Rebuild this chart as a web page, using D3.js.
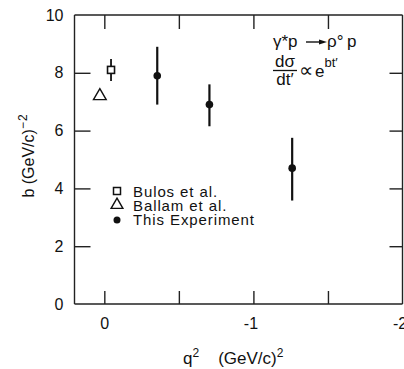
<!DOCTYPE html>
<html>
<head>
<meta charset="utf-8">
<script src="https://cdn.jsdelivr.net/npm/d3@7/dist/d3.min.js"></script>
<style>
  html, body { margin: 0; padding: 0; background: #fff; }
  svg { display: block; font-family: "Liberation Sans", Arial, sans-serif; }
  .axis path, .axis line { stroke: #222; stroke-width: 1.4; }
  .axis text { font-size: 16px; fill: #111; }
</style>
</head>
<body>
<div id="chart"></div>
<script>
// Slope parameter b of the rho0 t'-distribution versus photon virtuality q^2
const expQ2 = [-0.355, -0.705, -1.26];
const expB = [7.9, 6.9, 4.7];
const expErrUp = [1.0, 0.7, 1.05];
const expErrDown = [1.0, 0.75, 1.12];

const bulosQ2 = [-0.045];
const bulosB = [8.1];
const bulosErr = [0.38];

const ballamQ2 = [0.03];
const ballamB = [7.2];

const xTicks = [0, -1, -2];
const xMinorTicks = [0, -0.5, -1, -1.5];
const yTicks = [0, 2, 4, 6, 8, 10];
const legendLabels = ["Bulos et al.", "Ballam et al.", "This Experiment"];

const W = 404, H = 369;
const m = { left: 74.5, right: 1.5, top: 15, bottom: 65 };
const iw = W - m.left - m.right, ih = H - m.top - m.bottom;

const svg = d3.select("#chart").append("svg").attr("width", W).attr("height", H);
const g = svg.append("g").attr("transform", `translate(${m.left},${m.top})`);

const x = d3.scaleLinear().domain([0.2, -2.0]).range([0, iw]);
const y = d3.scaleLinear().domain([0, 10]).range([ih, 0]);

const fmt = d => d === 0 ? "0" : "-" + Math.abs(d);

// frame with inward ticks on all four sides
g.append("g").attr("class", "axis").attr("transform", `translate(0,${ih})`)
  .call(d3.axisBottom(x).tickValues(xMinorTicks).tickSize(-13).tickFormat(""))
  .call(a => a.select(".domain").attr("d", `M0,0H${iw}`));
g.append("g").attr("class", "axis").attr("transform", `translate(0,${ih})`)
  .call(d3.axisBottom(x).tickValues(xTicks).tickSize(0).tickPadding(14).tickFormat(fmt))
  .call(a => a.select(".domain").remove())
  .call(a => a.selectAll(".tick text").attr("dx", d => d < 0 ? -3 : 0));
g.append("g").attr("class", "axis")
  .call(d3.axisTop(x).tickValues(xMinorTicks).tickSize(-14).tickFormat(""))
  .call(a => a.select(".domain").attr("d", `M0,0H${iw}`));
g.append("g").attr("class", "axis")
  .call(d3.axisLeft(y).tickValues(yTicks).tickSize(-16).tickPadding(11).tickFormat(d3.format("d")))
  .call(a => a.select(".domain").attr("d", `M0,0V${ih}`))
  .call(a => a.selectAll(".tick line").filter(d => d === 0 || d === 10).remove());
g.append("g").attr("class", "axis").attr("transform", `translate(${iw},0)`)
  .call(d3.axisRight(y).tickValues(yTicks.filter(d => d > 0 && d < 10)).tickSize(-13).tickFormat(""))
  .call(a => a.select(".domain").attr("d", `M0,0V${ih}`));

// axis titles
const xt = svg.append("text").attr("x", 183).attr("y", 364)
  .style("font-size", "17px").attr("fill", "#111");
xt.append("tspan").text("q");
xt.append("tspan").attr("dy", -7).style("font-size", "12px").text("2");
xt.append("tspan").attr("dy", 7).attr("dx", 19).text("(GeV/c)");
xt.append("tspan").attr("dy", -7).style("font-size", "12px").text("2");

const yt = svg.append("text").attr("transform", "translate(34,156) rotate(-90)")
  .attr("text-anchor", "middle").style("font-size", "16px").attr("fill", "#111");
yt.append("tspan").text("b (GeV/c)");
yt.append("tspan").attr("dy", -7).style("font-size", "12px").text("\u2212\u200a2");

// this experiment: filled circles with error bars
const exp = expQ2.map((q, i) => ({ q, b: expB[i], up: expErrUp[i], dn: expErrDown[i] }));
g.selectAll(".eb").data(exp).join("line")
  .attr("x1", d => x(d.q)).attr("x2", d => x(d.q))
  .attr("y1", d => y(d.b + d.up)).attr("y2", d => y(d.b - d.dn))
  .attr("stroke", "#111").attr("stroke-width", 2.2);
g.selectAll(".pt").data(exp).join("circle")
  .attr("cx", d => x(d.q)).attr("cy", d => y(d.b)).attr("r", 3.8).attr("fill", "#111");

// Bulos et al.: open square with error bar
const bulos = bulosQ2.map((q, i) => ({ q, b: bulosB[i], e: bulosErr[i] }));
g.selectAll(".beb").data(bulos).join("line")
  .attr("x1", d => x(d.q)).attr("x2", d => x(d.q))
  .attr("y1", d => y(d.b + d.e)).attr("y2", d => y(d.b - d.e))
  .attr("stroke", "#111").attr("stroke-width", 1.8);
g.selectAll(".bsq").data(bulos).join("rect")
  .attr("x", d => x(d.q) - 3.5).attr("y", d => y(d.b) - 3.5)
  .attr("width", 7).attr("height", 7)
  .attr("fill", "#fff").attr("stroke", "#111").attr("stroke-width", 1.6);

// Ballam et al.: open triangle
const tri = d3.symbol().type(d3.symbolTriangle).size(70);
g.selectAll(".btri").data(ballamQ2.map((q, i) => ({ q, b: ballamB[i] }))).join("path")
  .attr("transform", d => `translate(${x(d.q)},${y(d.b)})`)
  .attr("d", tri).attr("fill", "none").attr("stroke", "#111").attr("stroke-width", 1.4);

// legend
const lg = svg.append("g").attr("transform", "translate(117,192)");
const rows = lg.selectAll("g").data(legendLabels).join("g")
  .attr("transform", (d, i) => `translate(0,${i * 14})`);
rows.filter((d, i) => i === 0).append("rect")
  .attr("x", -3.5).attr("y", -4.5).attr("width", 7).attr("height", 7)
  .attr("fill", "none").attr("stroke", "#111").attr("stroke-width", 1.5);
rows.filter((d, i) => i === 1).append("path")
  .attr("transform", "translate(0,-1)")
  .attr("d", d3.symbol().type(d3.symbolTriangle).size(60)).attr("fill", "none")
  .attr("stroke", "#111").attr("stroke-width", 1.4);
rows.filter((d, i) => i === 2).append("circle").attr("r", 3.5).attr("fill", "#111");
rows.append("text").attr("x", 16).attr("dy", "0.36em")
  .style("font-size", "15px").style("letter-spacing", "0.9px").attr("fill", "#111")
  .text(d => d);

// reaction and t' dependence
const ann = svg.append("g").attr("fill", "#111").style("font-size", "17px");
ann.append("text").attr("x", 273).attr("y", 47).text("\u03b3*p");
ann.append("line").attr("x1", 306).attr("x2", 321).attr("y1", 42).attr("y2", 42)
  .attr("stroke", "#111").attr("stroke-width", 1.4);
ann.append("path").attr("d", "M319,39.5 L327,42 L319,44.5 Z");
ann.append("text").attr("x", 327).attr("y", 47).text("\u03c1\u00b0");
ann.append("text").attr("x", 347).attr("y", 47).text("p");
ann.append("text").attr("x", 285).attr("y", 67).attr("text-anchor", "middle").text("d\u03c3");
ann.append("line").attr("x1", 273).attr("x2", 297).attr("y1", 70.5).attr("y2", 70.5)
  .attr("stroke", "#111").attr("stroke-width", 1.3);
ann.append("text").attr("x", 285).attr("y", 85).attr("text-anchor", "middle").text("dt\u2032");
ann.append("text").attr("x", 299).attr("y", 77).style("font-size", "20px").text("\u221d");
const r2 = ann.append("text").attr("x", 315).attr("y", 77);
r2.append("tspan").text("e");
r2.append("tspan").attr("dy", -10).style("font-size", "13px").text("bt\u2032");
</script>
</body>
</html>
